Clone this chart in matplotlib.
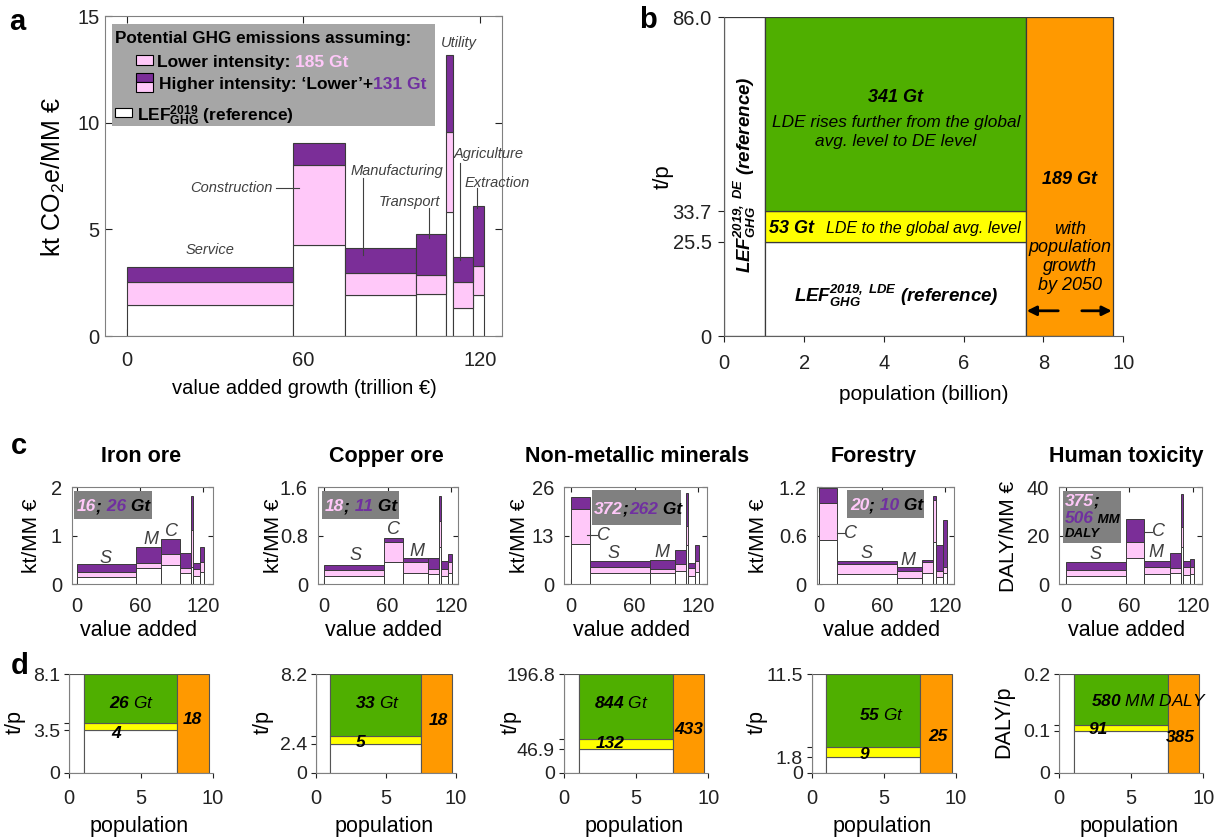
import numpy as np
import matplotlib
matplotlib.use('Agg')
import matplotlib.pyplot as plt
from matplotlib.patches import Rectangle

plt.rcParams['font.family'] = ['Liberation Sans', 'DejaVu Sans']
plt.rcParams['mathtext.fontset'] = 'custom'
plt.rcParams['mathtext.rm'] = 'Liberation Sans'
plt.rcParams['mathtext.it'] = 'Liberation Sans:italic'
plt.rcParams['mathtext.bf'] = 'Liberation Sans:bold'
plt.rcParams['mathtext.bfit'] = 'Liberation Sans:italic:bold'
plt.rcParams['mathtext.sf'] = 'Liberation Sans'

# ---------------- data ----------------
sectors = ['Service', 'Construction', 'Manufacturing', 'Transport', 'Utility', 'Agriculture', 'Extraction']
sector_abbr = ['S', 'C', 'M', 'T', 'U', 'A', 'E']
va_growth = [56.6, 17.6, 24.0, 10.3, 2.3, 6.7, 3.7]  # trillion EUR

a_ref = [1.45, 4.27, 1.92, 1.95, 5.83, 1.30, 1.92]
a_lower = [2.55, 8.02, 2.97, 2.86, 9.58, 2.55, 3.30]
a_higher = [3.25, 9.03, 4.11, 4.77, 13.17, 3.72, 6.09]
a_gt_lower = 185
a_gt_extra = 131

pop_bounds = [0.0, 1.02, 7.55, 9.73]  # billion
b_ref = 25.5
b_avg = 33.7
b_de = 86.0
b_gt = [53, 341, 189]

c_titles = ['Iron ore', 'Copper ore', 'Non-metallic minerals', 'Forestry', 'Human toxicity']
c_ylabels = ['kt/MM €', 'kt/MM €', 'kt/MM €', 'kt/MM €', 'DALY/MM €']
c_ymax = [2, 1.6, 26, 1.2, 40]
c_yticks = [[0, 1, 2], [0, 0.8, 1.6], [0, 13, 26], [0, 0.6, 1.2], [0, 20, 40]]
c_order = [['S', 'M', 'C', 'T', 'U', 'A', 'E'],
           ['S', 'C', 'M', 'T', 'U', 'A', 'E'],
           ['C', 'S', 'M', 'T', 'U', 'A', 'E'],
           ['C', 'S', 'M', 'T', 'U', 'A', 'E'],
           ['S', 'C', 'M', 'T', 'U', 'A', 'E']]
# values in S, C, M, T, U, A, E order
iron_ref = [0.16, 0.40, 0.33, 0.23, 0.36, 0.17, 0.26]
iron_lower = [0.26, 0.63, 0.43, 0.33, 1.12, 0.32, 0.47]
iron_higher = [0.42, 0.94, 0.76, 0.64, 1.83, 0.43, 0.76]
copper_ref = [0.13, 0.36, 0.19, 0.17, 0.61, 0.13, 0.19]
copper_lower = [0.23, 0.69, 0.36, 0.26, 1.05, 0.25, 0.36]
copper_higher = [0.32, 0.76, 0.44, 0.43, 1.45, 0.39, 0.50]
nonmet_ref = [3.0, 10.7, 3.0, 3.6, 10.5, 2.3, 3.4]
nonmet_lower = [4.6, 20.1, 4.2, 5.4, 15.5, 4.5, 6.3]
nonmet_higher = [6.2, 23.5, 6.6, 9.2, 24.6, 5.6, 10.5]
forest_ref = [0.13, 0.55, 0.08, 0.14, 0.52, 0.095, 0.14]
forest_lower = [0.25, 1.00, 0.165, 0.27, 1.04, 0.16, 0.22]
forest_higher = [0.29, 1.19, 0.21, 0.30, 1.09, 0.49, 0.80]
tox_ref = [3.6, 11.0, 4.1, 4.5, 15.2, 3.8, 4.1]
tox_lower = [5.9, 17.6, 7.0, 6.9, 23.8, 7.0, 7.3]
tox_higher = [9.1, 26.9, 9.6, 12.8, 37.1, 9.75, 10.3]
c_refs = [iron_ref, copper_ref, nonmet_ref, forest_ref, tox_ref]
c_lowers = [iron_lower, copper_lower, nonmet_lower, forest_lower, tox_lower]
c_highers = [iron_higher, copper_higher, nonmet_higher, forest_higher, tox_higher]
c_tot_lower = [16, 18, 372, 20, 375]
c_tot_extra = [26, 11, 262, 10, 506]

d_ylabels = ['t/p', 't/p', 't/p', 't/p', 'DALY/p']
d_ymax = [8.1, 8.2, 196.8, 11.5, 0.2]
d_ref = [3.5, 2.4, 46.9, 1.8, 0.085]
d_avg = [4.07, 3.08, 66.7, 3.04, 0.097]
d_green = [26, 33, 844, 55, 580]
d_yellow = [4, 5, 132, 9, 91]
d_orange = [18, 18, 433, 25, 385]
d_unit = ['Gt', 'Gt', 'Gt', 'Gt', 'MM DALY']

# ---------------- style ----------------
W, H = 1228, 839
PINK = '#FFC8F9'
PURPLE = '#7B2E98'
PURPLE_T = '#7030A0'
GREEN = '#4FAF00'
YELLOW = '#FFFF00'
ORANGE = '#FF9900'
EC = '#3a3a3a'
GRAYTXT = '#404040'

fig = plt.figure(figsize=(W / 100, H / 100), dpi=100)


def px_axes(left, top, right, bottom):
    return fig.add_axes([left / W, 1 - bottom / H, (right - left) / W, (bottom - top) / H])


def label_at(ax, which, px, py, box):
    l, t, r, b = box
    fx = (px - l) / (r - l)
    fy = (b - py) / (b - t)
    if which == 'x':
        ax.xaxis.set_label_coords(fx, fy)
        ax.xaxis.label.set_va('center')
    else:
        ax.yaxis.set_label_coords(fx, fy)
        ax.yaxis.label.set_va('center')


def fig_rect(ax, x, y, w, h, color, ec=None, lw=0.8, z=5):
    ax.add_patch(Rectangle((x / W, 1 - (y + h) / H), w / W, h / H, transform=fig.transFigure,
                           facecolor=color, edgecolor=ec if ec else 'none', lw=lw,
                           clip_on=False, zorder=z))


def rich(ax, x, y, pieces, italic=False, z=10):
    prev = None
    for s, col, size in pieces:
        kw = dict(fontsize=size, color=col, fontweight='bold', fontstyle='italic' if italic else 'normal',
                  va='baseline', ha='left', annotation_clip=False, zorder=z)
        if prev is None:
            prev = ax.annotate(s, xy=(x / W, 1 - y / H), xycoords='figure fraction', **kw)
        else:
            prev = ax.annotate(s, xy=(1, 1 - y / H), xycoords=(prev, 'figure fraction'), **kw)
    return prev


def stacked(ax, lefts, widths, ref, lower, higher, lw=0.8):
    ref = np.asarray(ref); lower = np.asarray(lower); higher = np.asarray(higher)
    ax.bar(lefts, ref, width=widths, align='edge', color='white', edgecolor=EC, lw=lw, zorder=2)
    ax.bar(lefts, lower - ref, bottom=ref, width=widths, align='edge', color=PINK, edgecolor=EC, lw=lw, zorder=2)
    ax.bar(lefts, higher - lower, bottom=lower, width=widths, align='edge', color=PURPLE, edgecolor=EC, lw=lw, zorder=2)


# ================= panel a =================
box_a = (105, 16, 501.7, 336)
axa = px_axes(*box_a)
x0, s = 126.7, (480 - 126.7) / 120
axa.set_xlim((box_a[0] - x0) / s, (box_a[2] - x0) / s)
axa.set_ylim(0, 15)
lefts_a = np.concatenate([[0], np.cumsum(va_growth)[:-1]])
stacked(axa, lefts_a, va_growth, a_ref, a_lower, a_higher)
axa.set_xticks([0, 60, 120])
axa.set_yticks([0, 5, 10, 15])
axa.tick_params(direction='in', top=True, right=True, length=5, labelsize=14.5, colors='#222222')
axa.tick_params(axis='x', pad=11)
axa.tick_params(axis='y', pad=4)
for sp in axa.spines.values():
    sp.set_color('#808080')
axa.set_xlabel('value added growth (trillion €)', fontsize=14.5)
axa.set_ylabel(r'kt CO$_2$e/MM €', fontsize=18)
label_at(axa, 'x', 304, 388, box_a)
label_at(axa, 'y', 53, 177, box_a)

tkw = dict(fontsize=10.5, style='italic', color=GRAYTXT, clip_on=False, zorder=6)
axa.text(28.3, 4.03, 'Service', ha='center', va='center', **tkw)
axa.text(49.7, 6.94, 'Construction', ha='right', va='center', **tkw)
axa.plot([50.7, 58.5], [6.94, 6.94], color=GRAYTXT, lw=0.8, clip_on=False)
axa.text(91.7, 7.75, 'Manufacturing', ha='center', va='center', **tkw)
axa.plot([80.4, 80.4], [7.39, 3.8], color=GRAYTXT, lw=0.8, clip_on=False, zorder=6)
axa.text(96.2, 6.3, 'Transport', ha='center', va='center', **tkw)
axa.plot([102.8, 102.8], [6.0, 4.58], color=GRAYTXT, lw=0.8, clip_on=False, zorder=6)
axa.text(113.0, 13.72, 'Utility', ha='center', va='center', **tkw)
axa.text(111.2, 8.53, 'Agriculture', ha='left', va='center', **tkw)
axa.plot([113.2, 113.2], [8.1, 3.56], color=GRAYTXT, lw=0.8, clip_on=False, zorder=6)
axa.text(114.6, 7.19, 'Extraction', ha='left', va='center', **tkw)
axa.plot([119.1, 119.1], [6.92, 5.98], color=GRAYTXT, lw=0.8, clip_on=False, zorder=6)

# legend box
fig_rect(axa, 112.3, 24, 322.7, 102, '#A6A6A6', z=5)
fig_rect(axa, 136, 55, 16.7, 10, PINK, ec='black', lw=0.8, z=6)
fig_rect(axa, 136, 72.7, 16.7, 9.5, PURPLE, ec='black', lw=0.8, z=6)
fig_rect(axa, 136, 82.2, 16.7, 9.5, PINK, ec='black', lw=0.8, z=6)
fig_rect(axa, 115, 108, 16.7, 8.7, 'white', ec='black', lw=0.8, z=6)
rich(axa, 115, 42.5, [('Potential GHG emissions assuming:', 'black', 12.3)])
rich(axa, 157, 67, [('Lower intensity: ', 'black', 12.5), (f'{a_gt_lower} Gt', PINK, 12.5)])
rich(axa, 159, 88.8, [('Higher intensity: \u2018Lower\u2019+', 'black', 12.5), (f'{a_gt_extra} Gt', PURPLE_T, 12.5)])
rich(axa, 137, 120.5, [(r'$\mathbf{LEF}_{\mathbf{GHG}}^{\mathbf{2019}}$ (reference)', 'black', 12.5)])

# ================= panel b =================
box_b = (724.3, 17.3, 1123.3, 336)
axb = px_axes(*box_b)
axb.set_xlim(0, 10)
axb.set_ylim(0, b_de)
lw_b = 0.9
axb.bar(pop_bounds[0], b_de, width=pop_bounds[1] - pop_bounds[0], align='edge', color='white', edgecolor=EC, lw=lw_b)
axb.bar(pop_bounds[1], b_ref, width=pop_bounds[2] - pop_bounds[1], align='edge', color='white', edgecolor=EC, lw=lw_b)
axb.bar(pop_bounds[1], b_avg - b_ref, bottom=b_ref, width=pop_bounds[2] - pop_bounds[1], align='edge', color=YELLOW, edgecolor=EC, lw=lw_b)
axb.bar(pop_bounds[1], b_de - b_avg, bottom=b_avg, width=pop_bounds[2] - pop_bounds[1], align='edge', color=GREEN, edgecolor=EC, lw=lw_b)
axb.bar(pop_bounds[2], b_de, width=pop_bounds[3] - pop_bounds[2], align='edge', color=ORANGE, edgecolor=EC, lw=lw_b)
axb.set_xticks([0, 2, 4, 6, 8, 10])
axb.set_yticks([0, b_ref, b_avg, b_de])
axb.set_yticklabels(['0', f'{b_ref:.1f}', f'{b_avg:.1f}', f'{b_de:.1f}'])
axb.spines['top'].set_visible(False)
axb.spines['right'].set_visible(False)
for sp in ['left', 'bottom']:
    axb.spines[sp].set_color('#606060')
axb.tick_params(direction='out', length=4, labelsize=14.5, colors='#222222')
axb.tick_params(axis='x', pad=9)
axb.tick_params(axis='y', pad=5)
axb.set_xlabel('population (billion)', fontsize=15)
axb.set_ylabel('t/p', fontsize=16)
label_at(axb, 'x', 924, 395, box_b)
label_at(axb, 'y', 663, 177, box_b)

axb.text(4.3, 64.4, f'{b_gt[1]} Gt', ha='center', va='center', fontsize=13, weight='bold', style='italic')
axb.text(4.3, 55.0, 'LDE rises further from the global\navg. level to DE level', ha='center', va='center',
         fontsize=12.4, style='italic', linespacing=1.3)
axb.text(1.12, 29.1, f'{b_gt[0]} Gt', ha='left', va='center', fontsize=13, weight='bold', style='italic')
axb.text(2.54, 29.1, 'LDE to the global avg. level', ha='left', va='center', fontsize=11.5, style='italic')
axb.text(8.66, 42.1, f'{b_gt[2]} Gt', ha='center', va='center', fontsize=13, weight='bold', style='italic')
axb.text(8.66, 21.3, 'with\npopulation\ngrowth\nby 2050', ha='center', va='center', fontsize=13,
         style='italic', linespacing=1.13)
axb.annotate('', xy=(7.58, 6.8), xytext=(8.37, 6.8),
             arrowprops=dict(arrowstyle='-|>', color='black', lw=2, mutation_scale=14, shrinkA=0, shrinkB=0))
axb.annotate('', xy=(9.71, 6.8), xytext=(8.96, 6.8),
             arrowprops=dict(arrowstyle='-|>', color='black', lw=2, mutation_scale=14, shrinkA=0, shrinkB=0))
axb.text(4.3, 10.8, r'$\mathbfit{LEF}_{\mathbfit{GHG}}^{\mathbfit{2019,\ LDE}}$ (reference)', ha='center',
         va='center', fontsize=13.5, weight='bold', style='italic')
axb.text(0.5, 43.5, r'$\mathbfit{LEF}_{\mathbfit{GHG}}^{\mathbfit{2019,\ DE}}$ (reference)', ha='center',
         va='center', fontsize=13.5, weight='bold', style='italic', rotation=90)

# ================= panels c =================
c_axes_px = [(71.7, 212.7), (317.7, 458.3), (564.0, 706.7), (816.5, 954.3), (1059.0, 1201.7)]
c_zero_px = [76.7, 324.0, 571.0, 818.5, 1065.7]
c_end_px = [204.0, 452.3, 699.3, 946.7, 1194.0]
c_top, c_bot = 487.3, 584.3
c_title_x = [141.0, 386.0, 636.7, 873.3, 1126.0]
c_ylab_x = [31.7, 273.0, 519.3, 758.3, 1009.0]
c_letter_pos = [
    [('S', 27.0, 0.54), ('M', 70.7, 0.93), ('C', 90.4, 1.09)],
    [('S', 29.3, 0.48), ('C', 65.5, 0.897), ('M', 87.5, 0.54)],
    [('C', 30.5, 13.2), ('S', 40.0, 8.2), ('M', 86.2, 8.6)],
    [('C', 29.9, 0.63), ('S', 45.6, 0.375), ('M', 85.0, 0.30)],
    [('S', 27.7, 12.1), ('C', 87.5, 21.6), ('M', 85.0, 13.0)],
]
c_leader = [None, None, (14.8, 24.2, 13.2), (17.3, 24.6, 0.63), (74.3, 81.2, 21.6)]
c_box_px = [(74, 491, 77.7, 28), (322.3, 491, 76.7, 28.3), (591.7, 490, 89, 35),
            (847.3, 490, 76.7, 28.3), (1062.7, 491, 58, 51.7)]
total_va = float(np.sum(va_growth))

for i in range(5):
    l, r = c_axes_px[i]
    box = (l, c_top, r, c_bot)
    ax = px_axes(*box)
    z0, e0 = c_zero_px[i], c_end_px[i]
    sc = (e0 - z0) / total_va
    ax.set_xlim((l - z0) / sc, (r - z0) / sc)
    ax.set_ylim(0, c_ymax[i])
    idx = [sector_abbr.index(k) for k in c_order[i]]
    w = [va_growth[j] for j in idx]
    lefts = np.concatenate([[0], np.cumsum(w)[:-1]])
    stacked(ax, lefts, w, [c_refs[i][j] for j in idx], [c_lowers[i][j] for j in idx],
            [c_highers[i][j] for j in idx], lw=0.7)
    ax.set_xticks([0, 60, 120])
    ax.set_yticks(c_yticks[i])
    ax.set_yticklabels([f'{v:g}' for v in c_yticks[i]])
    ax.tick_params(direction='in', top=True, right=True, length=3.5, labelsize=14.5, colors='#222222')
    ax.tick_params(axis='x', pad=9)
    ax.tick_params(axis='y', pad=7)
    for sp in ax.spines.values():
        sp.set_color('#808080')
    ax.set_xlabel('value added', fontsize=15.5)
    ax.set_ylabel(c_ylabels[i], fontsize=15)
    label_at(ax, 'x', (l + r) / 2 - 4, 630, box)
    label_at(ax, 'y', c_ylab_x[i], 536, box)
    ax.text(((c_title_x[i]) - l) / (r - l), (c_bot - 456.7) / (c_bot - c_top), c_titles[i],
            transform=ax.transAxes, ha='center', va='center', fontsize=15.5, weight='bold')
    for lab, lx, ly in c_letter_pos[i]:
        ax.text(lx, ly, lab, ha='center', va='center', fontsize=13, style='italic', color=GRAYTXT, zorder=6)
    if c_leader[i] is not None:
        xa, xb, yy = c_leader[i]
        ax.plot([xa, xb], [yy, yy], color=GRAYTXT, lw=0.8, zorder=6)
    bx, by, bw, bh = c_box_px[i]
    fig_rect(ax, bx, by, bw, bh, '#808080', z=7)
    if i < 4:
        sep = '' if i == 2 else ' '
        rich(ax, bx + 2.5, by + bh / 2 + 6, [(f'{c_tot_lower[i]}', PINK, 12.5), (';', 'black', 12.5),
                                            (f'{sep}{c_tot_extra[i]}', PURPLE_T, 12.5), (' Gt', 'black', 12.5)],
             italic=True)
    else:
        rich(ax, bx + 2.5, 506, [(f'{c_tot_lower[i]}', PINK, 12.5), (';', 'black', 12.5)], italic=True)
        rich(ax, bx + 2.5, 523, [(f'{c_tot_extra[i]}', PURPLE_T, 12.5), (' MM', 'black', 9.5)], italic=True)
        rich(ax, bx + 2.5, 537, [('DALY', 'black', 9.5)], italic=True)

# ================= panels d =================
d_x_px = [(69.0, 212.7), (316.0, 455.7), (564.0, 708.3), (811.7, 955.7), (1059.0, 1203.3)]
d_top, d_bot = 674.3, 772.7
d_ylab_x = [15.0, 263.3, 511.0, 757.0, 1003.3]
d_green_pos = [(4.36, 5.7), (4.42, 5.78), (4.0, 138.8), (4.86, 6.74), (2.22, 0.1458)]
d_yellow_pos = [(3.27, 3.24), (3.2, 2.5), (3.23, 57.4), (3.66, 2.14), (2.73, 0.088)]
d_orange_pos = [(8.6, 4.34), (8.76, 4.39), (8.66, 85.4), (8.75, 4.21), (8.38, 0.0719)]

for i in range(5):
    l, r = d_x_px[i]
    box = (l, d_top, r, d_bot)
    ax = px_axes(*box)
    ax.set_xlim(0, 10)
    ax.set_ylim(0, d_ymax[i])
    lw_d = 0.8
    ax.bar(pop_bounds[0], d_ymax[i], width=pop_bounds[1] - pop_bounds[0], align='edge', color='white', edgecolor='#555555', lw=lw_d)
    ax.bar(pop_bounds[1], d_ref[i], width=pop_bounds[2] - pop_bounds[1], align='edge', color='white', edgecolor='#555555', lw=lw_d)
    ax.bar(pop_bounds[1], d_avg[i] - d_ref[i], bottom=d_ref[i], width=pop_bounds[2] - pop_bounds[1], align='edge', color=YELLOW, edgecolor='#555555', lw=lw_d)
    ax.bar(pop_bounds[1], d_ymax[i] - d_avg[i], bottom=d_avg[i], width=pop_bounds[2] - pop_bounds[1], align='edge', color=GREEN, edgecolor='#555555', lw=lw_d)
    ax.bar(pop_bounds[2], d_ymax[i], width=pop_bounds[3] - pop_bounds[2], align='edge', color=ORANGE, edgecolor='#555555', lw=lw_d)
    ax.set_xticks([0, 5, 10])
    ax.set_yticks([0, d_ref[i], d_avg[i], d_ymax[i]])
    ax.set_yticklabels(['0', f'{d_ref[i]:.1f}', '', f'{d_ymax[i]:.1f}'])
    ax.spines['top'].set_visible(False)
    ax.spines['right'].set_visible(False)
    for sp in ['left', 'bottom']:
        ax.spines[sp].set_color('#808080')
    ax.tick_params(direction='out', length=3.5, labelsize=14.5, colors='#222222')
    ax.tick_params(axis='y', labelsize=14)
    ax.tick_params(axis='x', pad=8)
    ax.tick_params(axis='y', pad=3)
    ax.set_xlabel('population', fontsize=15.5)
    ax.set_ylabel(d_ylabels[i], fontsize=15.5)
    label_at(ax, 'x', (l + r) / 2 - 2, 826.7, box)
    label_at(ax, 'y', d_ylab_x[i], 722, box)
    gx, gy = d_green_pos[i]
    unit = d_unit[i].replace(' ', r'\ ')
    ax.text(gx, gy, rf'$\mathbfit{{{d_green[i]}}}\ \mathit{{{unit}}}$', ha='left' if i == 4 else 'center',
            va='center', fontsize=12.5, clip_on=False, zorder=6)
    yx, yy = d_yellow_pos[i]
    ax.text(yx, yy, f'{d_yellow[i]}', ha='center', va='center', fontsize=12.5, weight='bold', style='italic', zorder=6)
    ox, oy = d_orange_pos[i]
    ax.text(ox, oy, f'{d_orange[i]}', ha='center', va='center', fontsize=12.5, weight='bold', style='italic', zorder=6)

# panel letters
for lab, x, y in [('a', 17, 22), ('b', 648, 20), ('c', 19, 446), ('d', 20, 666)]:
    fig.text(x / W, 1 - y / H, lab, fontsize=21, weight='bold', ha='center', va='center')

fig.savefig('out.png', dpi=100)
